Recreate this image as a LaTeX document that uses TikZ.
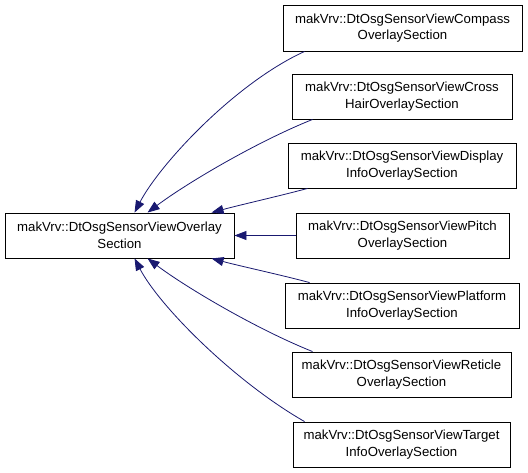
\documentclass[tikz,border=0pt]{standalone}
\usepackage{fontspec}
\setmainfont{Liberation Sans}
\usetikzlibrary{arrows.meta}
\definecolor{edgeblue}{RGB}{25,25,112}
\begin{document}
\begin{tikzpicture}[x=1pt,y=-1pt,
  cls/.style={draw=black,line width=0.9pt,fill=white,inner sep=0pt,align=center,
    minimum height=45pt,font=\fontsize{13.2}{16.5}\selectfont},
  inh/.style={draw=edgeblue,line width=0.8pt,-{Triangle[length=12pt,width=9pt]},fill=none}]
\useasboundingbox (0,0) rectangle (528,472);
\fill[white] (0,0) rectangle (528,472);
\node[cls,minimum width=229pt] (base) at (119.5,235.5) {makVrv::DtOsgSensorViewOverlay\\Section};
\node[cls,minimum width=239pt,minimum height=46pt] (compass) at (402.5,28) {makVrv::DtOsgSensorViewCompass\\OverlaySection};
\node[cls,minimum width=220pt] (cross) at (402,96.5) {makVrv::DtOsgSensorViewCross\\HairOverlaySection};
\node[cls,minimum width=228pt] (display) at (402,165.5) {makVrv::DtOsgSensorViewDisplay\\InfoOverlaySection};
\node[cls,minimum width=213pt] (pitch) at (402.5,235.5) {makVrv::DtOsgSensorViewPitch\\OverlaySection};
\node[cls,minimum width=234pt] (platform) at (402,305.5) {makVrv::DtOsgSensorViewPlatform\\InfoOverlaySection};
\node[cls,minimum width=219pt] (reticle) at (401.5,374.5) {makVrv::DtOsgSensorViewReticle\\OverlaySection};
\node[cls,minimum width=217pt] (target) at (401.5,444.5) {makVrv::DtOsgSensorViewTarget\\InfoOverlaySection};
\draw[inh] ([xshift=22pt]compass.south west) .. controls +(-70,32) and +(25,-48) .. ([xshift=130pt]base.north west);
\draw[inh] ([xshift=21pt]cross.south west) .. controls +(-55,22) and +(40,-30) .. ([xshift=143pt]base.north west);
\draw[inh] ([xshift=20pt]display.south west) .. controls +(-30,8) and +(30,-8) .. ([xshift=207pt]base.north west);
\draw[inh] (pitch.west) -- (base.east);
\draw[inh] ([xshift=25pt]platform.north west) .. controls +(-30,-8) and +(30,8) .. ([xshift=207pt]base.south west);
\draw[inh] ([xshift=21pt]reticle.north west) .. controls +(-55,-22) and +(40,30) .. ([xshift=143pt]base.south west);
\draw[inh] ([xshift=12pt]target.north west) .. controls +(-70,-40) and +(25,48) .. ([xshift=130pt]base.south west);
\end{tikzpicture}
\end{document}
